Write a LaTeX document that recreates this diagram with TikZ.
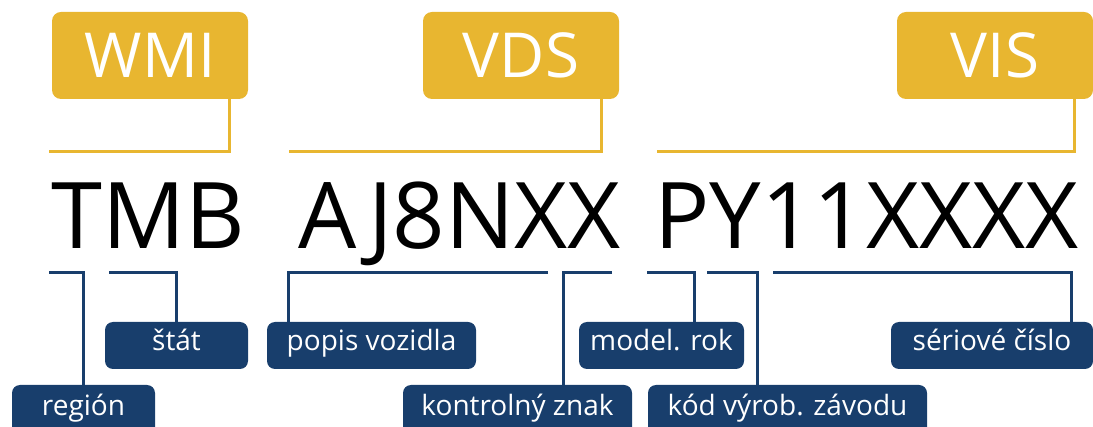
\documentclass[tikz,border=0pt]{standalone}
\usepackage{fontspec}
\setmainfont{Open Sans}
\definecolor{vinyellow}{HTML}{E8B630}
\definecolor{vinnavy}{HTML}{183E6C}
\tikzset{
  groupbox/.style={fill=vinyellow, rounded corners=9pt, text=white, minimum width=196pt, minimum height=87pt, inner sep=0pt, font=\fontsize{62}{62}\selectfont},
  partbox/.style={fill=vinnavy, rounded corners=8pt, text=white, minimum height=47pt, inner sep=0pt, text height=19pt, text depth=9pt, font=\fontsize{28}{28}\selectfont},
  lowbox/.style={partbox, minimum height=52pt},
  vinchars/.style={anchor=base west, inner sep=0pt, font=\fontsize{92}{92}\selectfont},
  yline/.style={vinyellow, line width=3pt},
  nline/.style={vinnavy, line width=3pt},
}

\begin{document}
\begin{tikzpicture}[x=1pt, y=-1pt]
    \useasboundingbox (0,0) rectangle (1093,427);
    \clip (0,0) rectangle (1093,427);

    % Yellow group labels
    \node[groupbox] (wmi) at (150,55.5) {WMI};
    \node[groupbox] (vds) at (521,55.5) {VDS};
    \node[groupbox] (vis) at (995,55.5) {VIS};

    % The VIN itself
    \node[vinchars] (tmb) at (51,249) {TMB};
    \node[vinchars] (aj) at (298,249) {AJ8NXX};
    \node[vinchars] (py) at (654,249) {PY11XXXX};

    % Brackets above the groups
    \coordinate (wmiL) at (49,152);
    \coordinate (vdsL) at (289,152);
    \coordinate (visL) at (657,152);
    \draw[yline] (wmiL) -| ([xshift=-19pt]wmi.south east);
    \draw[yline] (vdsL) -| ([xshift=-18pt]vds.south east);
    \draw[yline] (visL) -| ([xshift=-19pt]vis.south east);

    % Blue part labels
    \node[lowbox, minimum width=143pt] (region) at (83.5,411) {región};
    \node[partbox, minimum width=143pt] (stat) at (176.5,345.5) {štát};
    \node[partbox, minimum width=209pt] (popis) at (371.5,345.5) {popis vozidla};
    \node[lowbox, minimum width=229pt] (kontrol) at (517.5,411) {kontrolný znak};
    \node[partbox, minimum width=165pt] (model) at (661.5,345.5) {model. rok};
    \node[lowbox, minimum width=279pt] (kod) at (787.5,411) {kód výrob. závodu};
    \node[partbox, minimum width=202pt] (serial) at (992,345.5) {sériové číslo};

    % Brackets below the characters
    \coordinate (regionL) at (49,273);
    \coordinate (statL) at (109,273);
    \coordinate (popisR) at (548,273);
    \coordinate (kontrolR) at (612,273);
    \coordinate (modelL) at (647,273);
    \coordinate (kodL) at (707,273);
    \coordinate (serialL) at (773,273);
    \draw[nline] (regionL) -| (region.north);
    \draw[nline] (statL) -| (stat.north);
    \draw[nline] (popisR) -| ([xshift=22pt]popis.north west);
    \draw[nline] (kontrolR) -| ([xshift=-69pt]kontrol.north east);
    \draw[nline] (modelL) -| ([xshift=33pt]model.north);
    \draw[nline] (kodL) -| ([xshift=-170pt]kod.north east);
    \draw[nline] (serialL) -| ([xshift=-22pt]serial.north east);
\end{tikzpicture}
\end{document}
